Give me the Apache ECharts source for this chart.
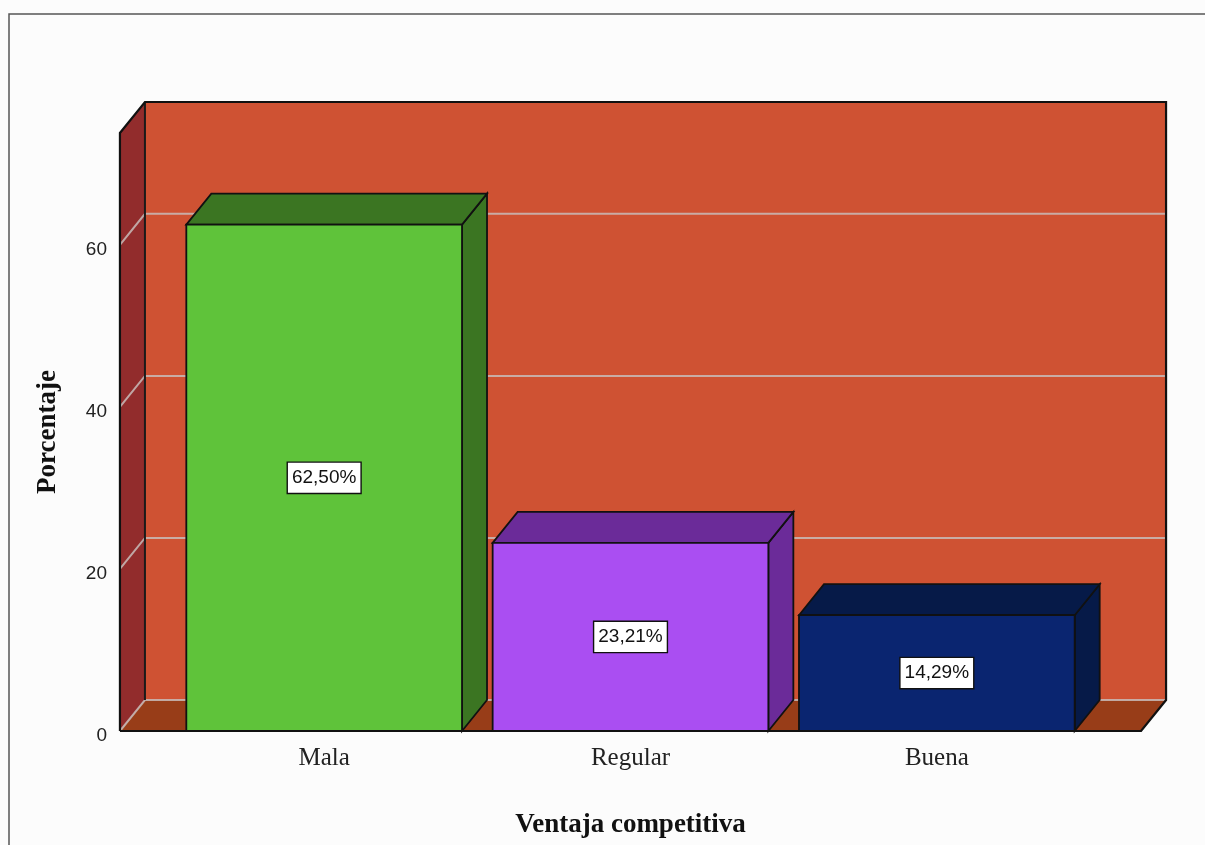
<!DOCTYPE html>
<html>
<head>
<meta charset="utf-8">
<script src="https://cdn.jsdelivr.net/npm/echarts@6/dist/echarts.min.js"></script>
<style>
  html, body { margin: 0; padding: 0; background: #fcfcfc; }
  #chart { width: 1205px; height: 845px; }
</style>
</head>
<body>
<div id="chart"></div>
<script>
// Ventaja competitiva: percentage per category
const categories = ['Mala', 'Regular', 'Buena'];
const percentages = [62.50, 23.21, 14.29];
const yTicks = [0, 20, 40, 60];
const yMax = 73.8;

// Face colours per bar: front face, then top/side face
const frontColors = ['#5fc33a', '#aa4ef2', '#0a2570'];
const sideColors = ['#3b7522', '#6b2b99', '#061a48'];

// Depth offset of the pseudo-3D box (pixels)
const DX = 25, DY = -31;

const chart = echarts.init(document.getElementById('chart'));

function fmt(v) {
  return v.toFixed(2).replace('.', ',') + '%';
}

function renderFrame(params, api) {
  const band = api.size([1, 0])[0];
  const x0 = api.coord([0, 0])[0] - band * 2 / 3;
  const x1 = api.coord([categories.length - 1, 0])[0] + band * 2 / 3;
  const y0 = api.coord([0, 0])[1];
  const yT = api.coord([0, yMax])[1];
  const children = [];
  // back wall
  children.push({ type: 'polygon', shape: { points: [[x0 + DX, yT + DY], [x1 + DX, yT + DY], [x1 + DX, y0 + DY], [x0 + DX, y0 + DY]] },
    style: { fill: '#cf5233' } });
  // left wall
  children.push({ type: 'polygon', shape: { points: [[x0, yT], [x0 + DX, yT + DY], [x0 + DX, y0 + DY], [x0, y0]] },
    style: { fill: '#922c2c' } });
  // floor
  children.push({ type: 'polygon', shape: { points: [[x0, y0], [x0 + DX, y0 + DY], [x1 + DX, y0 + DY], [x1, y0]] },
    style: { fill: '#983d18' } });
  // gridlines across left wall and back wall
  yTicks.forEach(function (t) {
    const y = api.coord([0, t])[1];
    children.push({ type: 'polyline', shape: { points: [[x0, y], [x0 + DX, y + DY], [x1 + DX, y + DY]] },
      style: { stroke: 'rgba(200,188,186,0.85)', lineWidth: 2, fill: null } });
  });
  // back-left vertical edge
  children.push({ type: 'line', shape: { x1: x0 + DX, y1: yT + DY, x2: x0 + DX, y2: y0 + DY },
    style: { stroke: '#1a1a1a', lineWidth: 2 } });
  // outer outline
  children.push({ type: 'polyline', shape: { points: [[x0, y0], [x0, yT], [x0 + DX, yT + DY], [x1 + DX, yT + DY], [x1 + DX, y0 + DY], [x1, y0], [x0, y0]] },
    style: { stroke: '#111', lineWidth: 2.2, fill: null, lineJoin: 'miter' } });
  return { type: 'group', children: children };
}

function renderBar(params, api) {
  const i = api.value(0);
  const v = api.value(1);
  const band = api.size([1, 0])[0];
  const w = band * 0.9;
  const top = api.coord([i, v]);
  const base = api.coord([i, 0]);
  const L = top[0] - w / 2, R = top[0] + w / 2;
  const yt = top[1], yb = base[1];
  const edge = { stroke: '#111', lineWidth: 1.8, lineJoin: 'miter' };
  return {
    type: 'group',
    children: [
      { type: 'polygon', shape: { points: [[R, yt], [R + DX, yt + DY], [R + DX, yb + DY], [R, yb]] },
        style: Object.assign({ fill: sideColors[i] }, edge) },
      { type: 'polygon', shape: { points: [[L, yt], [L + DX, yt + DY], [R + DX, yt + DY], [R, yt]] },
        style: Object.assign({ fill: sideColors[i] }, edge) },
      { type: 'rect', shape: { x: L, y: yt, width: w, height: yb - yt },
        style: Object.assign({ fill: frontColors[i] }, edge) },
      { type: 'text', x: top[0], y: (yt + yb) / 2,
        style: { text: fmt(v), align: 'center', verticalAlign: 'middle',
          font: '19px "Liberation Sans", Arial, sans-serif', fill: '#111',
          backgroundColor: '#ffffff', borderColor: '#111', borderWidth: 1.4,
          padding: [6, 4, 5, 4] } }
    ]
  };
}

chart.setOption({
  backgroundColor: '#fcfcfc',
  animation: false,
  grid: { left: 171, right: 115, top: 133, bottom: 114 },
  xAxis: {
    type: 'category',
    data: categories,
    axisLine: { show: false },
    axisTick: { show: false },
    axisLabel: { margin: 15, fontFamily: '"Liberation Serif", "Times New Roman", serif', fontSize: 25, color: '#222' },
    name: 'Ventaja competitiva',
    nameLocation: 'middle',
    nameGap: 81,
    nameTextStyle: { fontFamily: '"Liberation Serif", "Times New Roman", serif', fontWeight: 'bold', fontSize: 27, color: '#111' }
  },
  yAxis: {
    type: 'value',
    min: 0,
    max: yMax,
    interval: 20,
    axisLine: { show: false },
    axisTick: { show: false },
    splitLine: { show: false },
    axisLabel: { margin: 64, showMaxLabel: false,
      formatter: function (val) { return yTicks.indexOf(val) >= 0 ? '{t|' + val + '}' : ''; },
      rich: { t: { fontFamily: '"Liberation Sans", Arial, sans-serif', fontSize: 19, color: '#222', padding: [9, 0, 0, 0] } } },
    name: 'Porcentaje',
    nameLocation: 'middle',
    nameGap: 109,
    nameTextStyle: { fontFamily: '"Liberation Serif", "Times New Roman", serif', fontWeight: 'bold', fontSize: 27, color: '#111' }
  },
  graphic: [
    { type: 'polyline', shape: { points: [[9, 845], [9, 14], [1205, 14]] }, style: { stroke: '#555', lineWidth: 1.5, fill: null } }
  ],
  series: [
    { type: 'custom', renderItem: renderFrame, data: [[0, 0]], clip: false, z: 1, silent: true },
    { type: 'custom', renderItem: renderBar, data: percentages.map(function (v, i) { return [i, v]; }), clip: false, z: 2 }
  ]
});
</script>
</body>
</html>
